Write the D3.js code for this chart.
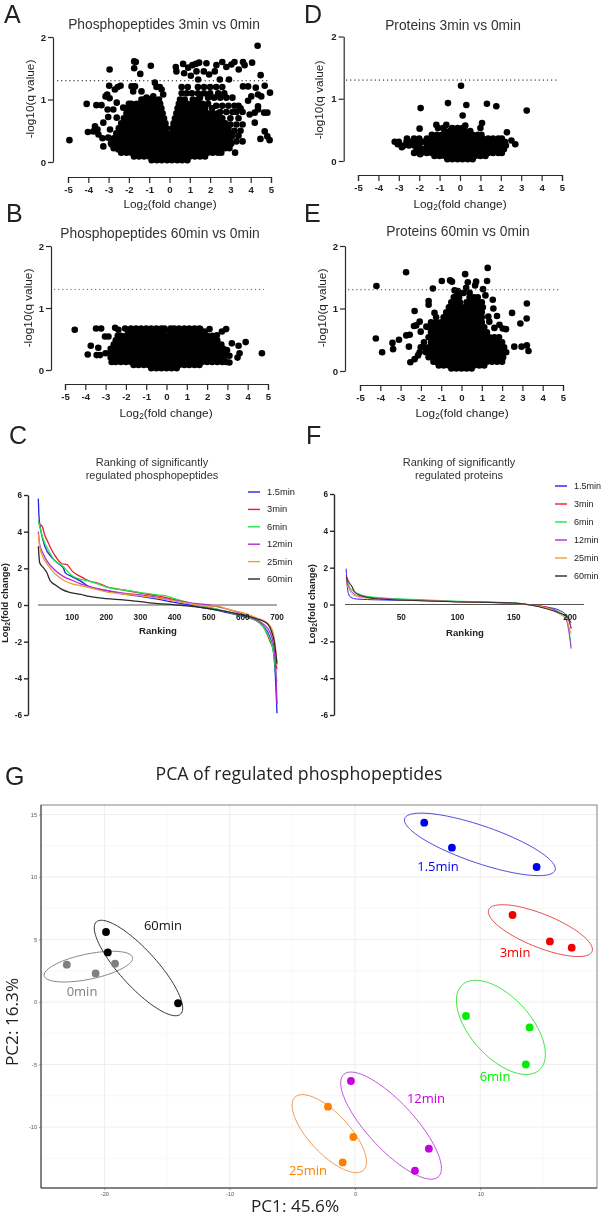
<!DOCTYPE html>
<html><head><meta charset="utf-8">
<script src="https://cdnjs.cloudflare.com/ajax/libs/d3/7.8.5/d3.min.js"></script>
<style>
html,body{margin:0;padding:0;background:#fff}
svg{display:block;filter:blur(.35px)}
text{font-family:"Liberation Sans",Arial,sans-serif;fill:#222}
.myr{font-family:"Open Sans",sans-serif}
</style></head><body><svg id="c" width="602" height="1217"></svg>
<script>
// ---------- DATA: values ----------
const volcanoTicksX=[-5,-4,-3,-2,-1,0,1,2,3,4,5];
const volcanoTicksY=[0,1,2];
const significanceLine=1.3;

const rowsA=[
[.03,[-.88,-.62,-.38,-.12,.12,.38,.62,.88]],
[.09,[-1.75,-1.5,-1.25,-1,-.75,-.5,-.25,0,.25,.5,.75,1,1.25,1.5,1.75]],
[.15,[-2.38,-2.12,-1.88,-1.62,-1.38,-1.12,-.88,-.62,-.38,-.12,.12,.38,.62,.88,1.12,1.38,1.62,1.88,2.12,2.38,2.55]],
[.22,[-2.75,-2.5,-2.25,-2,-1.75,-1.5,-1.25,-1,-.75,-.5,-.25,0,.25,.5,.75,1,1.25,1.5,1.75,2,2.25,2.5,2.75,2.95]],
[.3,[-2.88,-2.62,-2.38,-2.12,-1.88,-1.62,-1.38,-1.12,-.88,-.62,-.38,-.12,.12,.38,.62,.88,1.12,1.38,1.62,1.88,2.12,2.38,2.62,2.88,3.05]],
[.38,[-2.75,-2.5,-2.25,-2,-1.75,-1.5,-1.25,-1,-.75,-.5,-.25,0,.25,.5,.75,1,1.25,1.5,1.75,2,2.25,2.5,2.75,3]],
[.46,[-2.62,-2.38,-2.12,-1.88,-1.62,-1.38,-1.12,-.88,-.62,-.38,-.12,.12,.38,.62,.88,1.12,1.38,1.62,1.88,2.12,2.38,2.62,2.88,3]],
[.54,[-2.5,-2.25,-2,-1.75,-1.5,-1.25,-1,-.75,-.5,-.25,-.14,.14,.25,.5,.75,1,1.25,1.5,1.75,2,2.25,2.5,2.75,2.9]],
[.62,[-2.38,-2.12,-1.88,-1.62,-1.38,-1.12,-.88,-.62,-.38,-.2,.2,.38,.62,.88,1.12,1.38,1.62,1.88,2.12,2.38,2.62,2.75]],
[.7,[-2.25,-2,-1.75,-1.5,-1.25,-1,-.75,-.5,-.27,.27,.5,.75,1,1.25,1.5,1.75,2,2.25,2.5]],
[.78,[-2.12,-1.88,-1.62,-1.38,-1.12,-.88,-.62,-.34,.34,.62,.88,1.12,1.38,1.62,1.88,2.12,2.38]],
[.86,[-2.12,-2,-1.75,-1.5,-1.25,-1,-.75,-.5,-.4,.4,.5,.75,1,1.25,1.5,1.75,2.1]],
[.93,[-2,-1.88,-1.62,-1.38,-1.12,-.88,-.62,-.46,.46,.62,.88,1.12,1.38,1.62,1.9]],
[1.0,[-1.25,-1,-.75,-.52,.52,.75,1.15,1.4]]];
const extraA=[[4.34,1.86],[-1.74,1.61],[-1.66,1.6],[-1.74,1.5],[-2.95,1.48],[-1.44,1.41],[-.92,1.54],[.31,1.52],[.34,1.45],[.67,1.57],[.72,1.42],[.92,1.51],[1.13,1.55],[1.46,1.59],[1.3,1.57],[1.82,1.58],[1.33,1.45],[1.69,1.45],[1.41,1.32],[2.31,1.55],[2.23,1.45],[2.6,1.6],[2.8,1.52],[3.05,1.56],[3.2,1.6],[3.41,1.48],[3.62,1.6],[3.7,1.55],[4.07,1.59],[4.49,1.39],[4.69,1.22],[4.95,1.11],[2.93,1.32],[2.48,1.32],[1.05,1.38],[1.95,1.4],
[3.62,1.21],[3.87,1.21],[4.25,1.19],[4.36,1.08],[4.03,1.05],[4.52,1.05],[3.87,.98],[4.36,.89],[4.36,.84],[3.95,.76],[4.2,.79],[4.66,.79],[4.82,.79],[4.2,.63],[4.69,.49],[4.82,.41],[4.93,.35],[4.48,.37],[3.23,.15],
[-4.93,.35],[-4.08,.93],[-4.02,.48],[-3.6,.91],[-3.35,.91],[-3.67,.57],[-3.75,.49],[-3.5,.44],[-3.26,.25],[-3.02,.72],[-3.05,.84],[-3.07,1.08],[-2.97,1.22],[-2.69,1.16],[-2.41,1.22],[-1.87,1.21],[-1.7,1.21],[-1.79,1.13],[-1.38,1.13],[-.72,1.27],[-.64,1.2],[-.48,1.2],[-.39,1.16],[-.31,1.08],[-.8,1.05],[-1.13,1.03],[-1.38,1],[-2.6,.95],[-2.77,.84],[-2.28,.87],[-2.6,.71],[-3.26,.63],[-2.93,.52],[-3.02,.39],[-2.85,.28],[-2.52,.2],[-3.15,1.05],[-2.95,1.02],[-2.55,1.2],[-3.55,.52],[-3.3,.38],
[.6,1.2],[.9,1.2],[1.4,1.2],[1.7,1.2],[2,1.2],[2.3,1.2],[2.6,1.2],[.6,1.1],[.85,1.1],[1.1,1.1],[1.4,1.1],[1.7,1.1],[2,1.1],[2.4,1.1],[2.7,1.1],[1.5,1.03],[1.9,1.03],[2.2,1.03],[2.5,1.03],[2.8,1.03],[3.1,1.03],[2.3,.9],[2.6,.9],[2.9,.9],[3.2,.9],[3.4,.9],[3.5,.86],[2.5,.8],[2.8,.8],[3.1,.8],[3.3,.8],[3.6,.8],[2.6,.7],[3,.7],[3.4,.7],[3,.6],[3.3,.6],[3.6,.6],[3.2,.5],[3.5,.5],[3.1,.42],[3.4,.42],[3.3,.33],[3.6,.33],[3,.28]];

const rowsD=[
[.03,[-.62,-.38,-.12,.12,.38,.62]],
[.08,[-1.25,-1,-.75,-.5,-.25,0,.25,.5,.75,1,1.25]],
[.13,[-2.25,-2,-1.62,-1.38,-1.12,-.88,-.62,-.38,-.12,.12,.38,.62,.88,1.12,1.38,1.62,1.88,2.05]],
[.19,[-2.12,-1.88,-1.75,-1.5,-1.25,-1,-.75,-.5,-.25,0,.25,.5,.75,1,1.25,1.5,1.75,2,2.15]],
[.25,[-2.75,-2.5,-2.25,-2,-1.62,-1.38,-1.12,-.88,-.62,-.38,-.12,.12,.38,.62,.88,1.12,1.38,1.62,1.88,2.12,2.25]],
[.31,[-3.2,-3,-2.62,-2.38,-2.12,-1.88,-1.75,-1.5,-1.25,-1,-.75,-.5,-.25,0,.25,.5,.75,1,1.25,1.5,1.75,2,2.2]],
[.36,[-2.6,-2.25,-2,-1.62,-1.38,-1.12,-.88,-.62,-.38,-.12,.12,.38,.62,.88,1.12,1.38,1.62,1.88,2.05]],
[.42,[-1.38,-1.12,-.88,-.62,-.38,-.12,.12,.38,.62,.88,1.05]],
[.48,[-.75,-.5,-.25,0,.25,.5]],
[.53,[-.38,-.12,.12]]];
const extraD=[[.05,1.21],[-.59,.93],[-1.93,.85],[.31,.9],[1.32,.92],[1.78,.88],[3.27,.81],[.13,.73],[-1.98,.52],[1.08,.61],[1,.53],[2.3,.46],[2.52,.33],[2.71,.27],[-1.16,.58],[-1.08,.53],[-.67,.58],[-.83,.53],[.26,.57],[-3.05,.27],[-2.85,.22],[-1.95,.11],[-1.75,.14]];

const rowsB=[
[.03,[-.75,-.5,-.25,0,.25,.5]],
[.08,[-1.62,-1.38,-1.12,-.88,-.62,-.38,-.12,.12,.38,.62,.88,1.12,1.38,1.62]],
[.13,[-2.7,-2.5,-2.25,-2,-1.75,-1.5,-1.25,-1,-.75,-.5,-.25,0,.25,.5,.75,1,1.25,1.5,1.75,2,2.25,2.5,2.75,2.95]],
[.2,[-2.75,-2.62,-2.38,-2.12,-1.88,-1.62,-1.38,-1.12,-.88,-.62,-.38,-.12,.12,.38,.62,.88,1.12,1.38,1.62,1.88,2.12,2.38,2.62,2.85]],
[.27,[-3,-2.75,-2.5,-2.25,-2,-1.75,-1.5,-1.25,-1,-.75,-.5,-.25,0,.25,.5,.75,1,1.25,1.5,1.75,2,2.25,2.5,2.75,2.9]],
[.34,[-2.75,-2.62,-2.38,-2.12,-1.88,-1.62,-1.38,-1.12,-.88,-.62,-.38,-.12,.12,.38,.62,.88,1.12,1.38,1.62,1.88,2.12,2.38,2.62,2.8]],
[.41,[-2.6,-2.5,-2.25,-2,-1.75,-1.5,-1.25,-1,-.75,-.5,-.25,0,.25,.5,.75,1,1.25,1.5,1.75,2,2.25,2.5,2.7]],
[.48,[-2.5,-2.38,-2.12,-1.88,-1.62,-1.38,-1.12,-.88,-.62,-.38,-.12,.12,.38,.62,.88,1.12,1.38,1.62,1.88,2.12,2.38,2.5]],
[.55,[-2.4,-2.25,-2,-1.75,-1.5,-1.25,-1,-.75,-.5,-.25,-.1,.15,.25,.5,.75,1,1.25,1.5,1.75,2,2.25]],
[.62,[-1.88,-1.62,-1.38,-1.12,-.88,-.62,-.38,-.15,.15,.38,.62,.88,1.12,1.38,1.62,1.88]],
[.67,[-1.75,-1.5,-1.25,-1,-.75,-.5,-.25,-.1,.2,.38,.62,.88,1.12,1.38,1.62]]];
const extraB=[[-4.52,.65],[-3.47,.67],[-3.22,.67],[-2.53,.68],[-2.37,.65],[-2.04,.67],[-3.03,.54],[-2.86,.54],[-3.73,.39],[-3.88,.25],[-3.44,.24],[-3.27,.24],[-3.36,.36],[4.7,.27],[3.9,.45],[3.55,.39],[3.22,.43],[3.6,.27],[3.5,.2],[3.1,.12],[3.1,.23],[2.98,.32],[2.94,.66],[2.73,.62],[2.48,.56],[2.32,.51],[2.12,.66],[1.66,.66]];

const rowsE=[
[.04,[-.5,-.25,0,.25,.5]],
[.09,[-1.12,-.88,-.62,-.38,-.12,.12,.38,.62,.88,1.12]],
[.15,[-1.38,-1.25,-1,-.75,-.5,-.25,0,.25,.5,.75,1,1.25,1.5,1.75,2]],
[.22,[-1.62,-1.38,-1.12,-.88,-.62,-.38,-.12,.12,.38,.62,.88,1.12,1.38,1.62,1.88,2.05]],
[.3,[-1.75,-1.5,-1.25,-1,-.75,-.5,-.25,0,.25,.5,.75,1,1.25,1.5,1.75,2,2.2]],
[.38,[-1.88,-1.62,-1.38,-1.12,-.88,-.62,-.38,-.12,.12,.38,.62,.88,1.12,1.38,1.62,1.88,2.1]],
[.46,[-1.85,-1.5,-1.25,-1,-.75,-.5,-.25,0,.25,.5,.75,1,1.25,1.5,1.75,2]],
[.54,[-1.62,-1.38,-1.12,-.88,-.62,-.38,-.12,.12,.38,.62,.88,1.12,1.38,1.62,1.85]],
[.62,[-1.5,-1.25,-1,-.75,-.5,-.25,0,.25,.5,.75,1,1.25]],
[.7,[-1.62,-1.38,-1.12,-.88,-.62,-.38,-.12,.12,.38,.62,.88,1.12]],
[.78,[-1.5,-1.25,-1,-.75,-.5,-.25,0,.25,.5,.75,1]],
[.86,[-1.25,-.88,-.62,-.38,-.12,.12,.38,.62,.88,1]],
[.94,[-.75,-.5,-.25,0,.25,.5,.75,1]],
[1.02,[-.62,-.38,-.12,.12,.38,.62,.88,1.05]],
[1.1,[-.5,-.25,-.08,.25,.5,.75,1]],
[1.18,[-.38,-.12,.4,.62,.8]],
[1.25,[-.2,.1,.4]]];
const extraE=[[1.29,1.65],[-2.73,1.58],[-4.19,1.36],[.18,1.55],[-.97,1.44],[-.56,1.45],[-.47,1.43],[1.26,1.44],[-1.41,1.32],[.31,1.42],[.72,1.43],[.67,1.37],[1.06,1.31],[.23,1.33],[-.34,1.29],[-.18,1.28],[1.54,1.14],[1.18,1.21],[-1.62,1.12],[-1.62,1.06],[3.22,1.08],[-2.31,.96],[-1.33,.93],[1.57,1],[2.49,.93],[1.75,.88],[3.21,.84],[2.9,.76],[-2.06,.79],[-2.23,.73],[-2.34,.72],[-1.73,.71],[-2.01,.63],[-2.55,.58],[-2.72,.57],[-3.08,.5],[-4.22,.52],[-3.4,.45],[-3.37,.35],[-3.91,.3],[-2.59,.39],[-2.52,.14],[-2.31,.19],[-2.14,.25],[-2.01,.38],[-2.06,.3],[2.6,.39],[2.96,.39],[3.22,.41],[3.3,.32],[1.87,.74],[2.19,.67],[2.03,.68],[1.62,.69],[1.37,.79],[1.32,.87]];

const timeLabels=["1.5min","3min","6min","12min","25min","60min"];
const lineColors=["#2222ee","#f01c2c","#1ee84a","#b02ad8","#f29a3a","#2a2a2a"];
const rankTicksC=[100,200,300,400,500,600,700];
const rankTicksF=[50,100,150,200];
const foldTicks=[-6,-4,-2,0,2,4,6];
const rankC=[
[[1,5.8],[3,4.8],[10,3.9],[20,3.2],[40,2.6],[60,2.25],[75,2],[80,1.75],[100,1.55],[125,1.3],[150,1],[200,.78],[250,.6],[300,.47],[350,.32],[400,.14],[450,-.03],[500,-.2],[550,-.4],[600,-.62],[640,-.85],[660,-1.15],[680,-1.8],[690,-2.6],[695,-3.8],[698,-5],[700,-5.9]],
[[1,4.5],[5,4.4],[12,4.3],[20,3.8],[30,3.4],[40,3],[55,2.55],[70,2.25],[85,2.2],[100,1.85],[125,1.55],[150,1.3],[175,1.2],[200,1],[250,.82],[300,.65],[350,.5],[400,.3],[450,.08],[500,-.15],[550,-.35],[600,-.6],[640,-.85],[660,-1.2],[680,-2],[690,-2.5],[695,-3],[700,-3.5]],
[[1,4.6],[5,4.3],[15,3.6],[30,3],[50,2.4],[70,2.15],[100,1.6],[125,1.4],[150,1.3],[175,1.15],[200,.98],[250,.82],[300,.68],[350,.55],[375,.5],[400,.35],[450,.08],[500,-.12],[550,-.35],[600,-.6],[640,-.85],[660,-1.2],[680,-1.9],[690,-2.6],[695,-3.4],[700,-4.2]],
[[1,4],[5,3.3],[15,2.8],[30,2.3],[50,1.9],[75,1.55],[100,1.35],[125,1.15],[150,1],[200,.8],[250,.65],[300,.55],[350,.42],[400,.25],[450,.1],[500,0],[550,-.2],[600,-.5],[640,-.8],[660,-1.05],[680,-1.5],[690,-2.2],[695,-3],[700,-5.4]],
[[1,3.9],[5,3.2],[15,2.6],[30,2.15],[50,1.7],[75,1.35],[100,1.15],[125,1.05],[150,.95],[200,.72],[250,.6],[300,.5],[350,.38],[400,.22],[450,.06],[500,-.06],[525,-.05],[550,-.2],[600,-.42],[640,-.7],[670,-.95],[685,-1.3],[692,-1.8],[697,-2.6],[700,-3.3]],
[[1,3.2],[5,2.3],[15,2.05],[25,1.8],[35,1.35],[50,1.1],[70,.85],[90,.7],[125,.58],[150,.47],[200,.35],[250,.28],[300,.18],[350,.08],[400,.01],[450,-.08],[500,-.2],[550,-.35],[600,-.55],[640,-.75],[670,-1],[685,-1.5],[692,-2],[697,-2.7],[700,-3.2]]];
const rankF=[
[[1,1.95],[2,1],[3,.6],[5,.4],[10,.3],[30,.25],[60,.22],[100,.15],[150,.07],[165,-.02],[180,-.15],[190,-.3],[197,-.6],[199,-.8],[201,-1.3]],
[[1,1.6],[3,1.3],[6,1],[10,.6],[15,.45],[30,.35],[60,.25],[100,.15],[150,.08],[165,-.02],[180,-.15],[190,-.4],[197,-.7],[199,-.9],[201,-1.3]],
[[1,1.4],[3,1.1],[6,.8],[10,.65],[15,.5],[30,.38],[60,.28],[100,.18],[150,.1],[165,-.03],[180,-.2],[190,-.4],[197,-.8],[199,-1.3],[201,-2.3]],
[[1,1.3],[3,1],[6,.7],[10,.5],[15,.4],[30,.33],[60,.25],[100,.16],[150,.08],[165,-.03],[180,-.2],[190,-.45],[197,-.9],[199,-1.5],[201,-2.4]],
[[1,1.1],[3,.9],[6,.6],[10,.45],[15,.38],[30,.3],[60,.24],[100,.15],[150,.06],[165,-.04],[180,-.2],[190,-.5],[197,-.8],[199,-1.2],[201,-1.6]],
[[1,1.5],[3,1.2],[6,1],[8,.7],[12,.55],[18,.42],[30,.3],[60,.22],[100,.14],[150,.08],[165,-.03],[180,-.25],[190,-.45],[197,-.65],[199,-.8],[201,-1]]];

const pcaGroups=["0min","60min","1.5min","3min","6min","12min","25min"];
const pcaColors=["#808080","#000000","#0000f0","#f00000","#00ee00","#c800e0","#ff8000"];
const pcaOutline=["#777777","#222222","#3a3ad8","#e83a3a","#30e030","#c040e0","#f09040"];
const pcaPoints=[
[[-23,2.99],[-20.7,2.29],[-19.15,3.07]],
[[-19.87,5.6],[-19.73,3.97],[-14.12,-.1]],
[[5.53,14.35],[7.74,12.35],[14.5,10.8]],
[[12.58,6.96],[15.56,4.85],[17.3,4.35]],
[[8.86,-1.12],[13.94,-2.03],[13.64,-4.99]],
[[-.32,-6.32],[5.9,-11.73],[4.79,-13.5]],
[[-2.15,-8.37],[-.13,-10.8],[-.98,-12.83]]];
// ellipse: centre x, centre y, semi-major, semi-minor, angle in degrees
const pcaEllipses=[[-21.28,2.83,3.6,1.01,11.7],[-17.28,2.72,4.99,1.47,-47.7],[9.97,12.61,6.35,1.49,-19],[14.8,5.71,4.45,1.33,-22],[11.65,-2.03,4.59,2.4,-48],[2.88,-9.89,5.57,1.87,-47.3],[-2.05,-10.53,4,1.6,-47]];
const pcaTicksX=[-20,-10,0,10];
const pcaTicksY=[-10,-5,0,5,10,15];
const pcaMinorX=[-15,-5,5,15];
const pcaMinorY=[-12.5,-7.5,-2.5,2.5,7.5,12.5];

// ---------- DRAWING ----------
const svg=d3.select("#c");
const hyphenInt=d=>String(d).replace("\u2212","-");
function txt(x,y,s,o={}){
  const t=svg.append("text").attr("x",x).attr("y",y).attr("text-anchor",o.a||"middle")
   .attr("font-size",o.f||10).attr("font-weight",o.w||400).text(s);
  if(o.c)t.style("fill",o.c);
  if(o.r!==undefined)t.attr("transform",`rotate(${o.r} ${x} ${y})`);
  if(o.cl)t.attr("class",o.cl);
  return t;
}
function log2Label(g,x,y,o={}){
  const t=g.append("text").attr("text-anchor","middle").attr("font-size",o.f||10).attr("font-weight",o.w||400)
    .attr("transform",`translate(${x},${y}) rotate(${o.r||0})`);
  t.append("tspan").text("Log");
  t.append("tspan").attr("font-size",(o.f||10)*.7).attr("dy",2).text("2");
  t.append("tspan").attr("dy",-2).text("(fold change)");
}
function styleAxis(g,w,f){
  g.selectAll("path,line").attr("stroke","#2a2a2a").attr("stroke-width",w);
  g.selectAll("text").attr("font-size",f).attr("font-weight",700)
   .style("font-family",'"Liberation Sans",Arial,sans-serif').style("fill","#222");
}
function volcano(p,rows,extra){
  const x=d3.scaleLinear().domain([-5,5]).range([p.x0,p.x1]);
  const y=d3.scaleLinear().domain([0,2]).range([p.y0,p.y2]);
  const pts=rows.flatMap(([v,xs])=>xs.map(u=>[u,v])).concat(extra);
  svg.append("g").selectAll("circle").data(pts).join("circle")
    .attr("cx",d=>x(d[0])).attr("cy",d=>y(d[1])).attr("r",3.3).attr("fill","#000");
  svg.append("line").attr("x1",p.d0).attr("x2",p.d1).attr("y1",y(significanceLine)).attr("y2",y(significanceLine))
    .attr("stroke",p.dc||"#111").attr("stroke-width",1).attr("stroke-dasharray","1.2 2.9");
  const ax=svg.append("g").attr("transform",`translate(0,${p.ax})`)
    .call(d3.axisBottom(x).tickValues(volcanoTicksX).tickFormat(hyphenInt).tickSize(6).tickSizeOuter(6).tickPadding(3));
  styleAxis(ax,1.2,9.6);
  const ay=svg.append("g").attr("transform",`translate(${p.ay},0)`)
    .call(d3.axisLeft(y).tickValues(volcanoTicksY).tickFormat(hyphenInt).tickSize(5).tickSizeOuter(0).tickPadding(2));
  styleAxis(ay,1.2,9.6);
  txt(p.tx,p.ty,p.title,{f:13.8,c:"#333"});
  txt(p.ylx,p.yly,"-log10(q value)",{f:11.8,r:-90});
  log2Label(svg,p.xlx,p.xly,{f:11.8});
}
volcano({x0:68,x1:271,y0:162,y2:37,ax:177,ay:53,d0:57,d1:268,title:"Phosphopeptides 3min vs 0min",tx:164,ty:29,ylx:34,yly:99,xlx:170,xly:208},rowsA,extraA);
volcano({x0:358,x1:562,y0:161,y2:36.5,ax:175,ay:343.7,d0:346,d1:559,title:"Proteins 3min vs 0min",tx:453,ty:30,ylx:323,yly:100,xlx:460,xly:208},rowsD,extraD);
volcano({x0:65,x1:268,y0:370,y2:246,ax:384,ay:51,d0:54,d1:264,dc:"#666",title:"Phosphopeptides 60min vs 0min",tx:160,ty:238,ylx:32,yly:308,xlx:166,xly:417},rowsB,extraB);
volcano({x0:360,x1:563,y0:371,y2:246,ax:385,ay:345,d0:348,d1:560,dc:"#444",title:"Proteins 60min vs 0min",tx:458,ty:236,ylx:326,yly:308,xlx:462,xly:417},rowsE,extraE);

function ranking(p,series,ticks){
  const x=d3.scaleLinear().domain([0,p.dom]).range([p.x0,p.x1]);
  const y=d3.scaleLinear().domain([-6,6]).range([p.yb,p.yt]);
  const line=d3.line().x(d=>x(d[0])).y(d=>y(d[1])).curve(d3.curveMonotoneX);
  svg.append("line").attr("x1",p.x0).attr("x2",p.hEnd).attr("y1",y(0)).attr("y2",y(0)).attr("stroke","#555").attr("stroke-width",1.1);
  svg.append("g").selectAll("path").data(series).join("path").attr("d",line)
    .attr("fill","none").attr("stroke",(d,i)=>lineColors[i]).attr("stroke-width",p.lw);
  const ay=svg.append("g").attr("transform",`translate(${p.ay},0)`)
    .call(d3.axisLeft(y).tickValues(foldTicks).tickFormat(hyphenInt).tickSize(4).tickSizeOuter(0).tickPadding(2));
  styleAxis(ay,1.4,8.2);
  svg.append("g").selectAll("text").data(ticks).join("text")
    .attr("x",d=>x(d)).attr("y",y(0)+15).attr("text-anchor","middle").attr("font-size",8.2).attr("font-weight",700).text(d=>d);
  txt(p.rx,p.ry,"Ranking",{f:9.6,w:700});
  log2Label(svg,p.ylx,p.yly,{f:9.4,w:700,r:-90});
  txt(p.tx,466,p.title[0],{f:11,c:"#333"});txt(p.tx,479,p.title[1],{f:11,c:"#333"});
  timeLabels.forEach((s,i)=>{
    const ly=p.leg0+i*p.legStep;
    svg.append("line").attr("x1",p.lx).attr("x2",p.lx+12).attr("y1",ly).attr("y2",ly).attr("stroke",lineColors[i]).attr("stroke-width",1.4);
    txt(p.lx+19,ly+3,s,{a:"start",f:p.lf});
  });
}
ranking({dom:700,x0:38,x1:277,hEnd:277,yt:495,yb:715,ay:28,rx:158,ry:633.5,ylx:8,yly:603,tx:152,title:["Ranking of significantly","regulated phosphopeptides"],leg0:492,legStep:17.4,lx:248,lw:1.3,lf:9.3},rankC,rankTicksC);
ranking({dom:200,x0:345,x1:570,hEnd:584,yt:494,yb:715,ay:334,rx:465,ry:636,ylx:315,yly:604,tx:459,title:["Ranking of significantly","regulated proteins"],leg0:486,legStep:18,lx:555,lw:1,lf:9},rankF,rankTicksF);

// panel G
const gx=d3.scaleLinear().domain([-25.06,19.32]).range([41,597]);
const gy=d3.scaleLinear().domain([-14.88,15.76]).range([1188,805]);
const G=svg.append("g");
G.append("g").selectAll("line").data(pcaMinorX).join("line").attr("x1",gx).attr("x2",gx).attr("y1",805).attr("y2",1188).attr("stroke","#f3f3f3").attr("stroke-width",.6);
G.append("g").selectAll("line").data(pcaMinorY).join("line").attr("y1",gy).attr("y2",gy).attr("x1",41).attr("x2",597).attr("stroke","#f3f3f3").attr("stroke-width",.6);
G.append("g").selectAll("line").data(pcaTicksX).join("line").attr("x1",gx).attr("x2",gx).attr("y1",805).attr("y2",1188).attr("stroke","#eeeeee").attr("stroke-width",1);
G.append("g").selectAll("line").data(pcaTicksY).join("line").attr("y1",gy).attr("y2",gy).attr("x1",41).attr("x2",597).attr("stroke","#eeeeee").attr("stroke-width",1);
G.append("rect").attr("x",41).attr("y",805).attr("width",556).attr("height",383).attr("fill","none").attr("stroke","#777").attr("stroke-width",.9);
G.append("path").attr("d","M41,805V1188H597").attr("fill","none").attr("stroke","#444").attr("stroke-width",1);
const gax=G.append("g").attr("transform","translate(0,1188)").call(d3.axisBottom(gx).tickValues(pcaTicksX).tickSize(2).tickPadding(2).tickFormat(hyphenInt));
const gay=G.append("g").attr("transform","translate(41,0)").call(d3.axisLeft(gy).tickValues(pcaTicksY).tickSize(2).tickPadding(2).tickFormat(hyphenInt));
[gax,gay].forEach(a=>{a.select(".domain").remove();a.selectAll("line").attr("stroke","#555").attr("stroke-width",.6);
  a.selectAll("text").attr("font-size",5.6).style("fill","#555").style("font-family",'"Liberation Sans",Arial,sans-serif');});
const ell=d3.line().x(d=>gx(d[0])).y(d=>gy(d[1])).curve(d3.curveLinearClosed);
pcaEllipses.forEach((e,i)=>{
  const th=e[4]*Math.PI/180;
  const pts=d3.range(0,360,4).map(a=>{const t=a*Math.PI/180,u=e[2]*Math.cos(t),v=e[3]*Math.sin(t);
    return [e[0]+u*Math.cos(th)-v*Math.sin(th),e[1]+u*Math.sin(th)+v*Math.cos(th)];});
  G.append("path").attr("d",ell(pts)).attr("fill","none").attr("stroke",pcaOutline[i]).attr("stroke-width",.9);
});
pcaPoints.forEach((g,i)=>{
  G.append("g").selectAll("circle").data(g).join("circle").attr("cx",d=>gx(d[0])).attr("cy",d=>gy(d[1])).attr("r",3.9).attr("fill",pcaColors[i]);
});
const gLabels=[["0min",82,996,0],["60min",163,930,1],["1.5min",438,871,2],["3min",515,957,3],["6min",495,1081,4],["12min",426,1103,5],["25min",308,1175,6]];
gLabels.forEach(([s,x,y,i])=>txt(x,y,s,{f:13,c:pcaColors[i]==="#000000"?"#111":pcaColors[i],cl:"myr"}));
txt(299,780,"PCA of regulated phosphopeptides",{f:17.7,cl:"myr"});
txt(295,1212,"PC1: 45.6%",{f:17.2,cl:"myr"});
txt(18,1022,"PC2: 16.3%",{f:17.2,r:-90,cl:"myr"});
[["A",4,23],["D",304,23],["B",6,222],["E",304,222],["C",9,444],["F",306,444],["G",5,785]].forEach(([s,x,y])=>txt(x,y,s,{a:"start",f:25}));
</script></body></html>
